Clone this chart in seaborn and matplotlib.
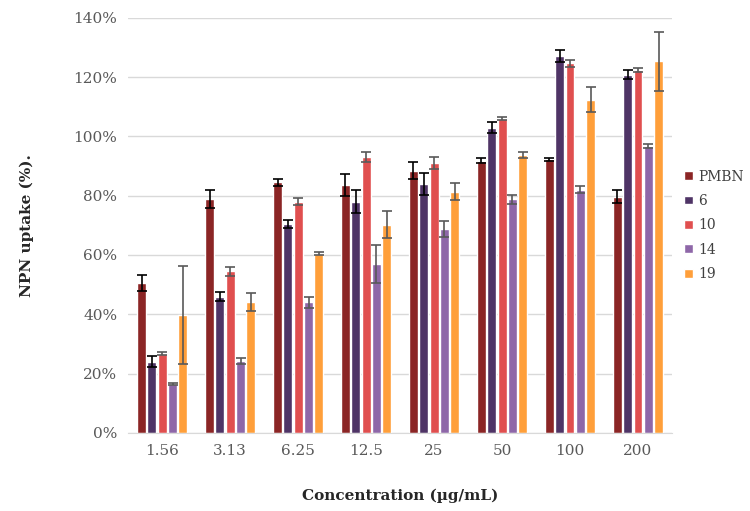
import numpy as np
import pandas as pd
import seaborn as sns
import matplotlib.pyplot as plt
from matplotlib.ticker import PercentFormatter

concentrations = ['1.56', '3.13', '6.25', '12.5', '25', '50', '100', '200']
compounds = ['PMBN', '6', '10', '14', '19']

pmbn = [50.5, 79.0, 84.5, 83.7, 88.5, 91.8, 92.3, 79.7]
c6 = [24.0, 45.9, 70.5, 78.0, 84.0, 103.0, 127.2, 120.8]
c10 = [26.6, 54.5, 78.0, 93.1, 91.0, 106.0, 124.7, 122.5]
c14 = [16.5, 24.3, 44.0, 57.0, 68.8, 78.8, 82.0, 96.8]
c19 = [39.8, 44.2, 60.5, 70.2, 81.4, 93.6, 112.4, 125.3]

pmbn_err = [2.8, 3.0, 1.3, 3.7, 3.0, 0.8, 0.5, 2.2]
c6_err = [1.8, 1.5, 1.3, 4.0, 3.8, 1.8, 2.0, 1.5]
c10_err = [0.5, 1.5, 1.3, 1.7, 2.0, 0.4, 1.2, 0.7]
c14_err = [0.3, 1.0, 1.8, 6.3, 2.6, 1.5, 1.2, 0.8]
c19_err = [16.5, 3.0, 0.6, 4.5, 3.0, 1.0, 4.2, 10.0]

colors = ['#8B2525', '#4F3466', '#E04F4F', '#8E67A8', '#FF9F3A']
err_colors = ['black', 'black', '#595959', '#595959', '#595959']

values = [pmbn, c6, c10, c14, c19]
errors = [pmbn_err, c6_err, c10_err, c14_err, c19_err]

rows = []
for name, vals in zip(compounds, values):
    for conc, v in zip(concentrations, vals):
        rows.append({'Concentration': conc, 'Compound': name, 'Uptake': v})
df = pd.DataFrame(rows)

sns.set_style('white')
plt.rcParams['font.family'] = ['DejaVu Serif']

fig = plt.figure(figsize=(7.5, 5.11), dpi=100)
ax = fig.add_axes([0.171, 0.153, 0.725, 0.812])

sns.barplot(data=df, x='Concentration', y='Uptake', hue='Compound',
            order=concentrations, hue_order=compounds, palette=colors,
            saturation=1, errorbar=None, width=0.76, gap=0.14, ax=ax, zorder=2)

for cont, errs, ec in zip(ax.containers, errors, err_colors):
    xs = [p.get_x() + p.get_width() / 2 for p in cont]
    ys = [p.get_height() for p in cont]
    ax.errorbar(xs, ys, yerr=errs, fmt='none', ecolor=ec, elinewidth=1.2,
                capsize=3.5, capthick=1.2, zorder=3)

ax.set_ylim(0, 140)
ax.set_yticks(range(0, 141, 20))
ax.yaxis.set_major_formatter(PercentFormatter(decimals=0))
ax.set_xlim(-0.5, 7.5)
ax.grid(axis='y', color='#d9d9d9', linewidth=1, zorder=0)
ax.set_axisbelow(True)
for s in ['top', 'right', 'left']:
    ax.spines[s].set_visible(False)
ax.spines['bottom'].set_color('#d9d9d9')
ax.tick_params(axis='both', length=0, colors='#595959', labelsize=11, pad=8)

ax.set_xlabel('Concentration (µg/mL)', fontsize=11, fontweight='bold', labelpad=22)
ax.set_ylabel('NPN uptake (%).', fontsize=11, fontweight='bold', labelpad=28)

ax.legend(loc='center left', bbox_to_anchor=(1.005, 0.5), frameon=False,
          fontsize=10, handlelength=0.6, handleheight=0.6, handletextpad=0.4,
          labelspacing=0.75, labelcolor='#404040', borderaxespad=0.3)

fig.savefig('out.png', dpi=100)
